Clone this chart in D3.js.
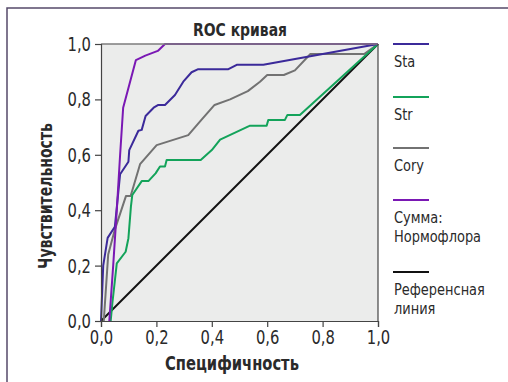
<!DOCTYPE html>
<html>
<head>
<meta charset="utf-8">
<script src="https://cdn.jsdelivr.net/npm/d3@7"></script>
<style>
  body { margin: 0; background: #fff; }
  svg text { font-family: "Liberation Sans Narrow", "DejaVu Sans Condensed", "Roboto", sans-serif; fill: #2a2a2a; }
</style>
</head>
<body>
<svg id="chart" width="508" height="382"></svg>
<script>
// ROC curves, x = 1 - specificity, y = sensitivity
var staX = [0, 0.008, 0.024, 0.05, 0.069, 0.099, 0.102, 0.135, 0.147, 0.161, 0.19, 0.207, 0.231, 0.267, 0.297, 0.327, 0.351, 0.46, 0.49, 0.586, 1];
var staY = [0, 0.2, 0.3, 0.34, 0.53, 0.575, 0.617, 0.687, 0.69, 0.74, 0.77, 0.78, 0.78, 0.816, 0.864, 0.898, 0.909, 0.909, 0.925, 0.925, 1];

var strX = [0.035, 0.041, 0.057, 0.089, 0.099, 0.108, 0.113, 0.147, 0.171, 0.197, 0.213, 0.231, 0.237, 0.36, 0.4, 0.43, 0.538, 0.598, 0.604, 0.664, 0.673, 0.718, 1];
var strY = [0, 0.064, 0.208, 0.25, 0.299, 0.413, 0.455, 0.505, 0.505, 0.533, 0.558, 0.558, 0.581, 0.581, 0.617, 0.655, 0.705, 0.705, 0.726, 0.726, 0.744, 0.744, 1];

var coryX = [0.01, 0.026, 0.05, 0.09, 0.107, 0.141, 0.201, 0.315, 0.364, 0.41, 0.466, 0.53, 0.574, 0.6, 0.66, 0.7, 0.756, 0.95, 1];
var coryY = [0, 0.24, 0.33, 0.451, 0.451, 0.566, 0.635, 0.671, 0.728, 0.78, 0.8, 0.83, 0.864, 0.888, 0.888, 0.905, 0.964, 0.964, 1];

var sumX = [0.03, 0.044, 0.057, 0.069, 0.08, 0.126, 0.16, 0.205, 0.231, 1];
var sumY = [0, 0.2, 0.4, 0.6, 0.77, 0.942, 0.958, 0.975, 1, 1];

var refX = [0, 1];
var refY = [0, 1];

var tickValues = [0, 0.2, 0.4, 0.6, 0.8, 1.0];

var seriesNames = ["Sta", "Str", "Cory", "Сумма:\nНормофлора", "Референсная\nлиния"];
var seriesColors = ["#3b2a9a", "#13a35a", "#727272", "#7a18b4", "#111111"];

var svg = d3.select("#chart");

// squeeze text horizontally, the original uses a condensed face
var narrow = function(sel, ratio){
  sel.each(function(){
    var w = this.getComputedTextLength();
    d3.select(this).attr("textLength", w * ratio).attr("lengthAdjust", "spacingAndGlyphs");
  });
};

// outer frame
svg.append("path")
  .attr("d", "M7,382 L7,8 L508,8")
  .attr("fill", "none")
  .attr("stroke", "#55496a")
  .attr("stroke-width", 1.5);

var x = d3.scaleLinear().domain([0, 1]).range([101, 378]);
var y = d3.scaleLinear().domain([0, 1]).range([321, 44]);

svg.append("rect")
  .attr("x", x(0)).attr("y", y(1))
  .attr("width", x(1) - x(0)).attr("height", y(0) - y(1))
  .attr("fill", "#ebeceb");

var fmt = function(d){ return d.toFixed(1).replace(".", ","); };

var line = d3.line()
  .x(function(d){ return x(d[0]); })
  .y(function(d){ return y(d[1]); });

var allSeries = [
  [staX, staY], [strX, strY], [coryX, coryY], [sumX, sumY], [refX, refY]
];
// draw order: reference first, then grey, green, blue, purple
var order = [4, 2, 1, 0, 3];
order.forEach(function(i){
  var pts = d3.zip(allSeries[i][0], allSeries[i][1]);
  svg.append("path")
    .datum(pts)
    .attr("d", line)
    .attr("fill", "none")
    .attr("stroke", seriesColors[i])
    .attr("stroke-width", 2)
    .attr("stroke-linejoin", "round");
});

// plot frame: grey top, dark right
svg.append("line")
  .attr("x1", x(0)).attr("x2", x(1)).attr("y1", y(1)).attr("y2", y(1))
  .attr("stroke", "#7d7d7d").attr("stroke-width", 1.5);
svg.append("line")
  .attr("x1", x(1)).attr("x2", x(1)).attr("y1", y(1)).attr("y2", y(0))
  .attr("stroke", "#444").attr("stroke-width", 1.2);

var yAxis = svg.append("g")
  .attr("transform", "translate(" + x(0) + ",0)")
  .call(d3.axisLeft(y).tickValues(tickValues).tickFormat(fmt).tickSize(6).tickPadding(4));
var xAxis = svg.append("g")
  .attr("transform", "translate(0," + y(0) + ")")
  .call(d3.axisBottom(x).tickValues(tickValues).tickFormat(fmt).tickSize(6).tickPadding(3));

[yAxis, xAxis].forEach(function(g){
  g.select(".domain").attr("stroke", "#444").attr("stroke-width", 1.2);
  g.selectAll(".tick line").attr("stroke", "#444").attr("stroke-width", 1.2);
  g.selectAll(".tick text")
    .style("font-family", "'Liberation Sans Narrow', 'DejaVu Sans Condensed', sans-serif")
    .attr("font-size", 20).attr("fill", "#2a2a2a")
    .call(narrow, 0.82);
});

// titles
svg.append("text")
  .attr("x", 240).attr("y", 36)
  .attr("text-anchor", "middle")
  .attr("font-size", 18).attr("font-weight", "bold")
  .text("ROC кривая")
  .call(narrow, 0.86);

svg.append("text")
  .attr("x", 232).attr("y", 370)
  .attr("text-anchor", "middle")
  .attr("font-size", 19).attr("font-weight", "bold")
  .text("Специфичность")
  .call(narrow, 0.86);

svg.append("text")
  .attr("transform", "translate(52,196) rotate(-90)")
  .attr("text-anchor", "middle")
  .attr("font-size", 19).attr("font-weight", "bold")
  .text("Чувствительность")
  .call(narrow, 0.82);

// legend
var legendY = [44, 97, 148, 200, 272];
seriesNames.forEach(function(name, i){
  var g = svg.append("g").attr("transform", "translate(393," + legendY[i] + ")");
  g.append("line")
    .attr("x1", 0).attr("x2", 36).attr("y1", 0).attr("y2", 0)
    .attr("stroke", seriesColors[i]).attr("stroke-width", 2);
  name.split("\n").forEach(function(part, j){
    g.append("text")
      .attr("x", 1).attr("y", 23 + j * 19)
      .attr("font-size", 16)
      .text(part)
      .call(narrow, 0.9);
  });
});
</script>
</body>
</html>
